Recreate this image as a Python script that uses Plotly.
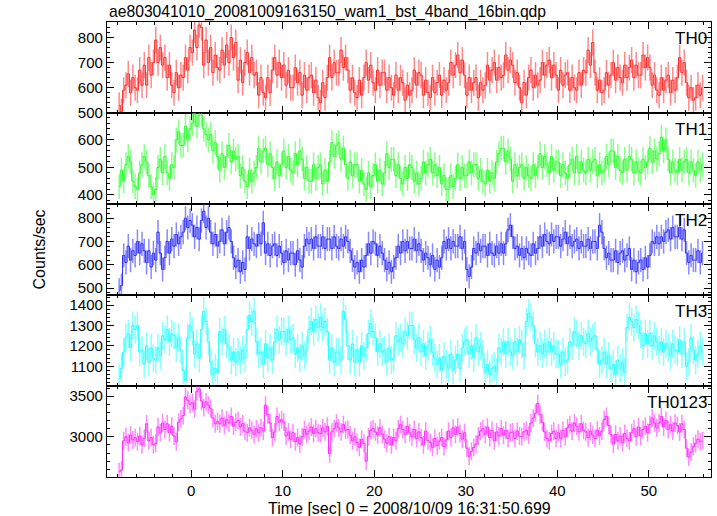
import plotly.graph_objects as go
from plotly.subplots import make_subplots

T_START = -8.0
BIN = 0.25

th0 = [530,505,590,610, 655,580,640,600, 590,670,610,690, 610,720,650,700,
       790,700,760,690, 720,640,690,610, 580,660,600,650, 640,720,670,760,
       740,830,760,850, 840,690,790,700, 760,660,730,680, 670,750,690,770,
       700,800,720,780, 630,710,620,700, 740,660,720,650, 660,570,640,580,
       560,640,580,670, 720,650,700,640, 690,610,670,600, 600,680,620,660,
       570,650,590,640, 650,580,630,560, 540,620,560,640, 720,640,700,660,
       660,750,680,720, 670,590,640,580, 560,630,570,640, 700,630,690,620,
       590,670,610,660, 660,590,640,600, 570,650,590,640, 620,550,610,570,
       590,670,610,660, 650,570,630,580, 560,640,580,620, 650,570,630,590,
       620,700,650,690, 730,660,710,650, 570,640,590,620, 640,560,620,590,
       610,690,630,670, 700,630,680,640, 650,730,670,710, 690,620,660,600,
       540,620,570,640, 670,600,650,610, 630,700,650,690, 710,640,690,650,
       590,670,610,650, 660,590,640,600, 590,660,610,670, 660,750,690,780,
       660,590,630,580, 590,660,610,650, 700,630,680,640, 620,690,640,680,
       710,640,690,650, 650,730,680,720, 680,610,650,590, 570,640,590,630,
       650,580,630,590, 640,720,660,700, 620,560,600,550, 560,610,570,600]

th1 = [430,490,450,510, 540,520,450,430, 420,480,510,540, 520,470,430,400,
       420,500,530,480, 540,480,460,510, 500,600,630,580, 580,650,600,640,
       660,695,650,690, 690,640,620,600, 620,560,590,540, 490,550,500,540,
       580,520,560,530, 540,470,500,450, 430,490,450,480, 500,570,520,560,
       570,510,550,500, 460,520,470,510, 560,500,540,490, 480,550,510,560,
       530,460,500,450, 450,510,460,500, 510,440,490,450, 520,590,540,580,
       590,530,570,510, 460,520,470,510, 510,450,490,440, 420,480,430,470,
       510,450,490,440, 480,550,500,530, 530,470,510,460, 440,500,460,510,
       500,450,480,440, 460,520,480,510, 530,480,510,470, 500,440,470,420,
       420,470,430,460, 510,460,500,470, 470,520,480,510, 510,460,490,450,
       440,490,450,480, 460,520,550,570, 570,520,560,530, 450,510,470,500,
       510,460,500,470, 460,510,470,500, 550,500,540,510, 480,540,490,520,
       520,470,510,480, 460,510,530,480, 540,480,520,490, 480,530,490,520,
       530,470,510,480, 490,540,510,560, 560,500,540,490, 480,530,490,540,
       530,480,520,490, 480,530,500,520, 570,520,560,530, 550,610,560,600,
       530,480,520,490, 480,530,490,520, 530,480,520,490, 470,520,490,510]

th2 = [490,510,640,610, 680,620,660,640, 700,650,690,660, 610,660,590,650,
       620,740,650,580, 630,700,650,710, 680,730,690,720, 740,800,760,790,
       770,720,760,710, 790,830,760,800, 740,690,730,680, 700,750,690,740,
       760,700,630,590, 620,570,610,580, 720,670,710,690, 680,730,690,780,
       650,690,640,680, 690,640,680,650, 610,660,620,650, 650,600,660,620,
       590,680,710,690, 710,670,720,680, 680,720,670,710, 710,670,720,680,
       670,710,680,720, 700,660,620,590, 610,570,620,590, 640,690,650,700,
       690,640,680,650, 620,580,610,570, 590,630,680,650, 700,660,700,670,
       670,710,660,690, 660,620,650,630, 600,640,580,620, 590,630,700,670,
       710,670,700,680, 680,720,670,700, 580,550,590,670, 650,690,660,680,
       680,640,690,650, 640,680,650,690, 650,690,750,770, 720,670,680,640,
       670,630,670,650, 640,690,650,670, 720,680,730,700, 690,730,700,720,
       720,680,710,740, 690,720,680,700, 710,670,700,680, 680,710,670,700,
       700,670,770,740, 670,630,650,620, 620,660,610,650, 660,620,640,670,
       580,620,570,610, 620,580,630,590, 640,700,690,720, 690,720,700,740,
       750,710,760,720, 720,760,710,750, 650,610,640,620, 620,660,610,650]

th3 = [1040,1090,1170,1240, 1260,1190,1300,1280, 1300,1170,1180,1110, 1200,1120,1190,1140,
       1130,1190,1150,1250, 1230,1280,1220,1260, 1250,1190,1240,1180, 1080,1030,1240,1300,
       1270,1160,1210,1140, 1280,1370,1320,1220, 1120,1060,1090,1070, 1270,1220,1280,1210,
       1190,1130,1170,1120, 1170,1130,1180,1140, 1280,1350,1320,1370, 1220,1160,1170,1110,
       1210,1140,1190,1130, 1220,1280,1230,1270, 1270,1220,1280,1230, 1240,1160,1190,1140,
       1200,1150,1180,1280, 1320,1270,1330,1290, 1340,1290,1320,1270, 1130,1190,1120,1170,
       1170,1130,1370,1330, 1200,1130,1210,1120, 1180,1120,1200,1150, 1190,1260,1310,1270,
       1240,1170,1210,1170, 1180,1120,1190,1130, 1140,1250,1220,1240, 1210,1270,1250,1300,
       1300,1230,1190,1240, 1170,1210,1150,1200, 1230,1170,1140,1110, 1140,1080,1150,1110,
       1090,1160,1080,1130, 1160,1090,1190,1220, 1230,1160,1200,1140, 1240,1170,1200,1160,
       1070,1110,1060,1090, 1100,1070,1190,1170, 1220,1160,1220,1170, 1150,1220,1170,1230,
       1210,1150,1320,1360, 1340,1300,1210,1170, 1200,1160,1210,1170, 1220,1170,1200,1160,
       1160,1110,1170,1120, 1130,1220,1200,1270, 1260,1200,1250,1220, 1210,1260,1220,1240,
       1250,1180,1110,1130, 1170,1110,1150,1090, 1110,1060,1130,1090, 1120,1070,1290,1340,
       1320,1290,1330,1300, 1260,1200,1260,1210, 1260,1200,1250,1220, 1180,1220,1170,1210,
       1190,1150,1210,1180, 1170,1230,1160,1220, 1100,1120,1240,1180, 1130,1160,1200,1170]

th0123 = [2570,2590,2950,3000, 2930,3020,2960,2990, 2940,3010,2900,2980, 3160,2950,2990,2900,
          2920,3120,3050,3170, 3090,3160,3050,3130, 3010,2940,3180,3220, 3260,3490,3450,3400,
          3420,3340,3560,3590, 3440,3360,3430,3390, 3350,3230,3160,3190, 3160,3230,3140,3210,
          3170,3250,3130,3180, 3200,3120,3160,3070, 3050,3110,3080,3030, 3100,3050,3110,3070,
          3390,3270,3170,2990, 3060,3250,3180,3210, 3180,3010,3060,2970, 3050,2940,2990,2910,
          3000,3090,3030,3070, 3120,3040,3100,3050, 3040,3110,3060,3130, 2790,3060,3100,3170,
          3110,3060,3150,3080, 3090,3020,2950,3000, 2930,2870,2970,2920, 2700,3000,3080,3100,
          3060,3020,3110,3030, 2970,2920,3000,2900, 2990,2950,3100,3150, 3090,3030,3130,3050,
          3000,3090,2980,3060, 2990,2900,3070,2950, 2930,2870,2980,2890, 2950,2990,2880,2960,
          3070,2990,3110,3030, 3120,3040,2970,3050, 2860,2760,2820,2870, 2910,3010,3070,3100,
          3030,3120,2990,3080, 2950,3060,3010,3100, 3020,3080,2980,3050, 3060,2980,3070,3010,
          3000,3060,3080,3020, 3170,3230,3290,3410, 3270,3180,3060,2980, 2950,3040,3070,2980,
          3050,2980,3080,3000, 3110,3150,3070,3170, 3130,3060,3160,3080, 3060,2990,3070,3020,
          2980,3080,3010,3070, 3210,3250,3140,3030, 2910,3030,2950,3010, 2930,3040,2980,2950,
          3050,3100,3000,3120, 3010,3090,3130,3050, 3150,3230,3170,3110, 3170,3250,3120,3200,
          3090,3150,3070,3170, 3140,3060,3160,3090, 2860,2750,2810,2880, 2920,2970,2940,2950]

# 1-sigma errors (counts/sec) read from the error-bar lengths
errors = [52, 45, 52, 69, 110]
names = ["TH0", "TH1", "TH2", "TH3", "TH0123"]
series = [th0, th1, th2, th3, th0123]
line_colors = ["#ff2a2a", "#2aff2a", "#2a2aff", "#2affff", "#ff2aff"]
err_colors = ["rgba(255,40,40,0.55)", "rgba(40,255,40,0.55)", "rgba(40,40,255,0.55)",
              "rgba(40,255,255,0.55)", "rgba(255,40,255,0.55)"]
y_ranges = [[499, 862], [367, 698], [470, 861], [1003, 1450], [2505, 3625]]
y_dticks = [100, 100, 100, 100, 500]
y_minor = [20, 20, 20, 20, 100]
x_range = [-9.2, 56.8]

n = len(th0)
t = [T_START + BIN * (i + 0.5) for i in range(n)]

fig = make_subplots(rows=5, cols=1, shared_xaxes=True, vertical_spacing=0)

for k in range(5):
    fig.add_trace(go.Scatter(
        x=t, y=series[k], mode="lines", line=dict(color=line_colors[k], width=1, shape="hvh"),
        error_y=dict(type="constant", value=errors[k], color=err_colors[k], thickness=1.5, width=0),
        showlegend=False, hoverinfo="skip"), row=k + 1, col=1)

axis_common = dict(showline=True, linecolor="black", linewidth=1.2, mirror="allticks",
                   ticks="inside", ticklen=7, tickcolor="black", tickwidth=1,
                   showgrid=False, zeroline=False,
                   tickfont=dict(family="Liberation Sans, Arial, sans-serif", size=15, color="black"))

for k in range(5):
    fig.update_yaxes(range=y_ranges[k], dtick=y_dticks[k], tick0=0,
                     minor=dict(dtick=y_minor[k], ticks="inside", ticklen=3, tickcolor="black", showgrid=False),
                     row=k + 1, col=1, **axis_common)
    fig.update_xaxes(range=x_range, dtick=10, tick0=0,
                     minor=dict(dtick=2, ticks="inside", ticklen=3, tickcolor="black", showgrid=False),
                     showticklabels=(k == 4), row=k + 1, col=1, **axis_common)

fonts = dict(family="Liberation Sans, Arial, sans-serif", color="black")

annotations = []
for k in range(5):
    dom = fig.layout["yaxis" + ("" if k == 0 else str(k + 1))].domain
    annotations.append(dict(text=names[k], xref="paper", yref="paper", x=1, xshift=-2, y=dom[1], yshift=-5,
                            xanchor="right", yanchor="top", showarrow=False,
                            font=dict(size=17, **fonts)))
annotations.append(dict(text="ae803041010_20081009163150_wam1_bst_4band_16bin.qdp", xref="paper", yref="paper",
                        x=0, y=1.0, xanchor="left", yanchor="bottom", yshift=-1, showarrow=False,
                        font=dict(size=15.7, **fonts)))
annotations.append(dict(text="Counts/sec", xref="paper", yref="paper", x=-0.111, y=0.5,
                        xanchor="center", yanchor="middle", textangle=-90, showarrow=False,
                        font=dict(size=16, **fonts)))
annotations.append(dict(text="Time [sec] 0 = 2008/10/09 16:31:50.699", xref="paper", yref="paper",
                        x=0.5, y=0, yshift=-21, xanchor="center", yanchor="top", showarrow=False,
                        font=dict(size=16, **fonts)))

fig.update_layout(width=717, height=516, margin=dict(l=107, r=6, t=22, b=39),
                  paper_bgcolor="white", plot_bgcolor="white", annotations=annotations)

# remove the default 8 px page margin so the 717x516 figure fills the window exactly
fig.write_html("out.html", config={"displayModeBar": False},
               post_script="document.body.style.margin='0px';")
